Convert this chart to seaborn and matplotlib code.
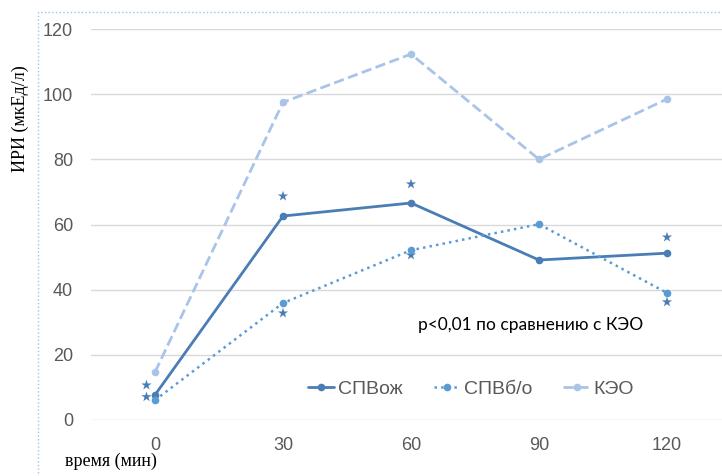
import matplotlib
matplotlib.use("Agg")
import matplotlib.pyplot as plt
import seaborn as sns
import pandas as pd
from matplotlib.patches import Rectangle

# Data
time_min = [0, 30, 60, 90, 120]
tick_labels = ["0", "30", "60", "90", "120"]
spv_oj = [7.7, 62.6, 66.6, 49.1, 51.2]      # СПВож
spv_bo = [6.1, 35.9, 52.1, 60.1, 39.0]      # СПВб/о
keo = [14.7, 97.5, 112.3, 80.0, 98.5]       # КЭО
star_x = [-2, -2, 30, 30, 60, 60, 120, 120]
star_y = [10.7, 7.1, 68.7, 32.8, 72.4, 50.6, 56.1, 36.2]

series_names = ["СПВож", "СПВб/о", "КЭО"]
df = pd.DataFrame({
    "time": time_min * 3,
    "value": spv_oj + spv_bo + keo,
    "series": [series_names[0]] * 5 + [series_names[1]] * 5 + [series_names[2]] * 5,
})
stars = pd.DataFrame({"x": star_x, "y": star_y})

sns.set_theme(style="white")
plt.rcParams["font.family"] = ["Liberation Sans", "DejaVu Sans"]

fig = plt.figure(figsize=(7.22, 4.76), dpi=100)
ax = fig.add_axes([91 / 722, 56 / 476, 640 / 722, 391 / 476])

colors = {"СПВож": "#4a7db5", "СПВб/о": "#5b9bd5", "КЭО": "#a9c4e9"}
styles = {"СПВож": "-", "СПВб/о": ":", "КЭО": "--"}
lws = {"СПВож": 2.0, "СПВб/о": 1.8, "КЭО": 2.0}

for name in series_names:
    sub = df[df["series"] == name]
    sns.lineplot(data=sub, x="time", y="value", ax=ax, color=colors[name],
                 linestyle=styles[name], linewidth=lws[name], marker="o",
                 markersize=5.5, markeredgewidth=0, label=name)

sns.scatterplot(data=stars, x="x", y="y", ax=ax, marker="*", s=60,
                color="#4a7db5", edgecolor="none", legend=False)

ax.set_xlim(-15, 135)
ax.set_ylim(0, 120)
ax.set_xticks(time_min)
ax.set_xticklabels(tick_labels)
ax.set_yticks([0, 20, 40, 60, 80, 100, 120])
ax.grid(axis="y", color="#d9d9d9", linewidth=1)
ax.grid(axis="x", visible=False)
for s in ax.spines.values():
    s.set_visible(False)
ax.tick_params(axis="both", length=0, labelsize=13, labelcolor="#595959")
ax.tick_params(axis="y", pad=13)
ax.tick_params(axis="x", pad=12)
ax.set_xlabel("")
ax.set_ylabel("")

leg = ax.legend(loc="center", bbox_to_anchor=((471 - 91) / 640, 1 - (389 - 29) / 391),
                ncol=3, frameon=False, fontsize=14, handlelength=1.35,
                columnspacing=1.6, handletextpad=0.2, labelcolor="#595959")

fig.text(20 / 722, 1 - 119 / 476, "ИРИ (мкЕд/л)", rotation=90, ha="center", va="center",
         family=["Liberation Serif"], fontsize=13, color="black")
fig.text(65 / 722, 1 - 461 / 476, "время (мин)", ha="left", va="center",
         family=["Liberation Serif"], fontsize=13, color="black")
fig.text(418 / 722, 1 - 325 / 476, "p<0,01 по сравнению с КЭО", ha="left", va="center",
         family=["Lato", "DejaVu Sans"], fontsize=12.5, color="black")

fig.patches.append(Rectangle((38 / 722, -0.1), 1.2, 1 - 12 / 476 + 0.1,
                             transform=fig.transFigure, fill=False,
                             edgecolor="#9dc3e6", linestyle=":", linewidth=1))

fig.savefig("out.png", dpi=100)
